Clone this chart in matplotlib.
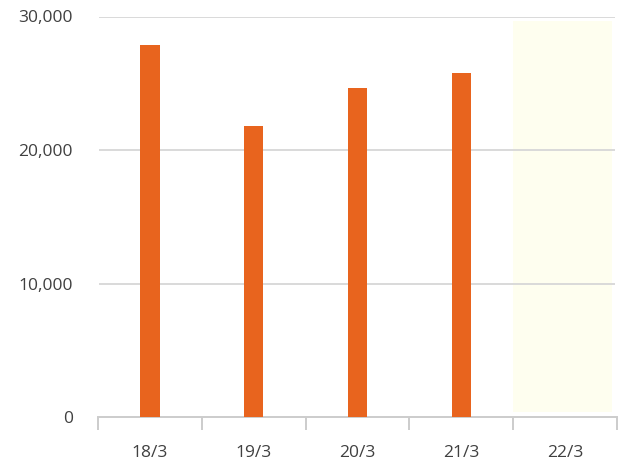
import matplotlib
matplotlib.use("Agg")
import matplotlib.pyplot as plt
from matplotlib.ticker import FuncFormatter

categories = ["18/3", "19/3", "20/3", "21/3", "22/3"]
values = [27870, 21800, 24650, 25770, None]
yticks = [0, 10000, 20000, 30000]

plt.rcParams['font.family'] = ['Open Sans', 'DejaVu Sans']

fig = plt.figure(figsize=(6.35, 4.75), dpi=100)
ax = fig.add_axes([98/635, (475-417.3)/475, (617-98)/635, (417.3-16.5)/475])

xs = list(range(len(categories)))
# highlighted (forecast) column
ax.axvspan(3.5, 4.45, ymin=0.013, ymax=0.99, color='#FEFEEF', zorder=0, lw=0)

for y in yticks[1:]:
    ax.axhline(y, xmin=0.004, xmax=0.994, color='#d9d9d9', lw=1.4, zorder=1)

bx = [x for x, v in zip(xs, values) if v is not None]
bv = [v for v in values if v is not None]
ax.bar(bx, bv, width=0.185, color='#E8641E', zorder=3)

ax.set_xlim(-0.5, len(categories) - 0.5)
ax.set_ylim(0, 30000)
ax.set_yticks(yticks)
ax.yaxis.set_major_formatter(FuncFormatter(lambda v, p: f"{int(v):,}"))
ax.set_xticks(xs)
ax.set_xticklabels(categories)
ax.set_xticks([x - 0.5 for x in range(len(categories) + 1)], minor=True)

for s in ['top', 'right', 'left']:
    ax.spines[s].set_visible(False)
ax.spines['bottom'].set_color('#cccccc')
ax.spines['bottom'].set_linewidth(1.4)

ax.tick_params(axis='y', length=0, pad=18, labelsize=12.5, labelcolor='#404040')
ax.tick_params(axis='x', which='major', length=0, pad=20, labelsize=12.5, labelcolor='#404040')
ax.tick_params(axis='x', which='minor', length=9, width=1.4, color='#cccccc')

fig.savefig("out.png", dpi=100)
